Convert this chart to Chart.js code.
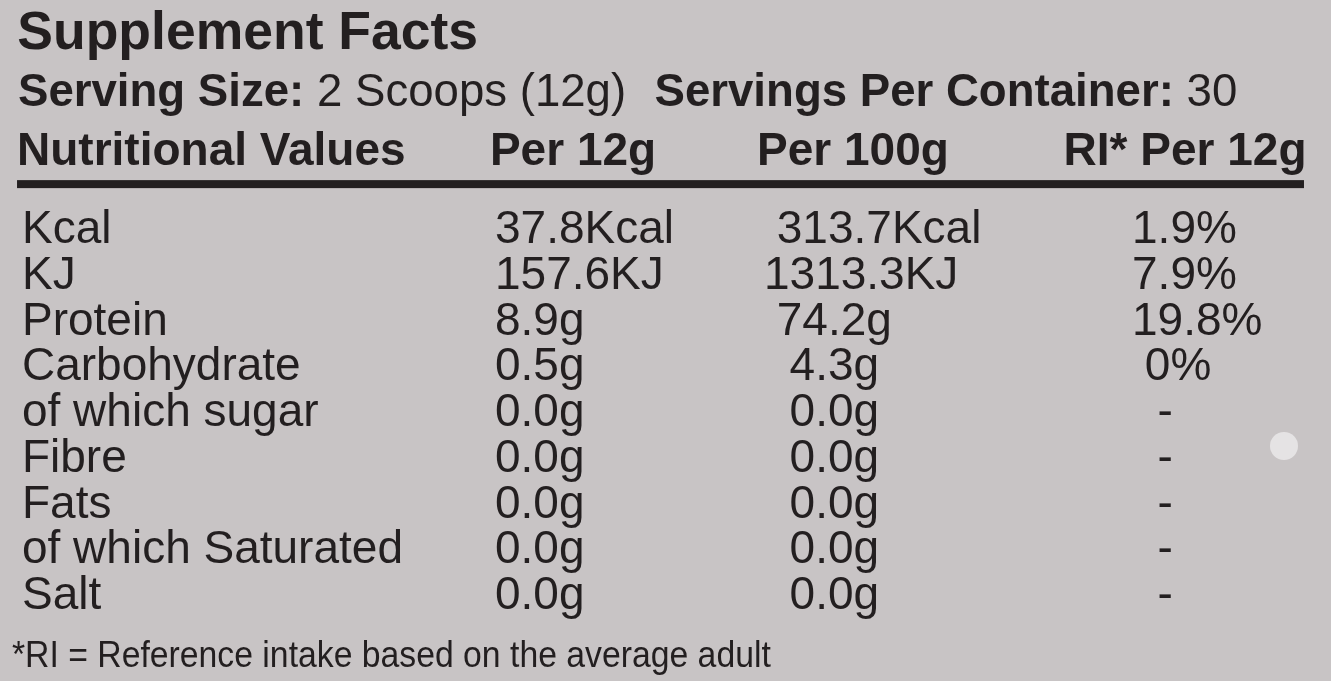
<!DOCTYPE html>
<html>
<head>
<meta charset="utf-8">
<title>Supplement Facts</title>
<script src="https://cdn.jsdelivr.net/npm/chart.js@4.4.1/dist/chart.umd.min.js"></script>
<style>
  html, body { margin: 0; padding: 0; background: #c8c4c5; }
  #wrap { position: relative; width: 1331px; height: 681px; }
  #speck { position: absolute; left: 1270px; top: 432px; width: 28px; height: 28px; border-radius: 50%; background: #e5e3e4; }
</style>
</head>
<body>
<div id="wrap">
  <canvas id="facts"></canvas>
  <div id="speck"></div>
</div>
<script>
const title = "Supplement Facts";
const servingLabel = "Serving Size:";
const servingSize = "2 Scoops (12g)";
const containerLabel = "Servings Per Container:";
const servingsPerContainer = "30";
const columnHeaders = ["Nutritional Values", "Per 12g", "Per 100g", "RI* Per 12g"];
const nutrients = ["Kcal", "KJ", "Protein", "Carbohydrate", "of which sugar", "Fibre", "Fats", "of which Saturated", "Salt"];
const per12g = ["37.8Kcal", "157.6KJ", "8.9g", "0.5g", "0.0g", "0.0g", "0.0g", "0.0g", "0.0g"];
const per100g = [" 313.7Kcal", "1313.3KJ", " 74.2g", "  4.3g", "  0.0g", "  0.0g", "  0.0g", "  0.0g", "  0.0g"];
const riPer12g = ["1.9%", "7.9%", "19.8%", " 0%", "  -", "  -", "  -", "  -", "  -"];
const footnote = "*RI = Reference intake based on the average adult";

// layout (percent of the x scale), kept apart from the values
const cellAnchor = [1.65, 37.19, 57.4, 85.05];
const headerAnchor = [1.28, 36.81, 56.88, 79.91];
const ruleSpan = [1.28, 97.97];
const ink = "#231f20";
const face = '"Liberation Sans", Arial, Helvetica, sans-serif';

const columns = [nutrients, per12g, per100g, riPer12g];

const tableText = {
  id: "tableText",
  afterDatasetsDraw(chart) {
    const { ctx, scales: { x, y } } = chart;
    ctx.save();
    ctx.fillStyle = ink;
    ctx.textBaseline = "alphabetic";
    ctx.textAlign = "left";

    // title
    ctx.font = `bold 53.5px ${face}`;
    ctx.fillText(title, x.getPixelForValue(1.3), y.top - 155);

    // serving line, bold and regular pieces side by side
    let px = x.getPixelForValue(1.35);
    const servingBase = y.top - 98;
    [[servingLabel + " ", "bold"], [servingSize + "  ", "normal"], [containerLabel + " ", "bold"], [servingsPerContainer, "normal"]]
      .forEach(([text, weight], i) => {
        ctx.font = `${weight} 45.6px ${face}`;
        ctx.fillText(text, px, servingBase);
        px += ctx.measureText(text).width + (i === 1 ? 3 : 0);
      });

    // column headers
    ctx.font = `bold 46px ${face}`;
    columnHeaders.forEach((h, i) => {
      ctx.fillText(h, x.getPixelForValue(headerAnchor[i]), y.top - 39);
    });

    // thick rule under the headers
    const x0 = x.getPixelForValue(ruleSpan[0]);
    const x1 = x.getPixelForValue(ruleSpan[1]);
    ctx.fillRect(x0, y.top - 24, x1 - x0, 8);

    // table cells at the dataset points
    ctx.font = `46px ${face}`;
    chart.data.datasets.forEach((ds, i) => {
      chart.getDatasetMeta(i).data.forEach((pt, j) => {
        ctx.fillText(ds.cells[j], pt.x, pt.y + 16);
      });
    });

    // footnote
    ctx.font = `37px ${face}`;
    ctx.translate(x.getPixelForValue(0.9), y.bottom + 51);
    ctx.scale(0.912, 1);
    ctx.fillText(footnote, 0, 0);
    ctx.restore();
  }
};

new Chart(document.getElementById("facts"), {
  type: "scatter",
  data: {
    datasets: columns.map((cells, i) => ({
      label: columnHeaders[i],
      cells,
      data: nutrients.map(n => ({ x: cellAnchor[i], y: n })),
      pointRadius: 0,
      pointHoverRadius: 0
    }))
  },
  options: {
    responsive: true,
    maintainAspectRatio: false,
    animation: false,
    events: [],
    layout: { padding: { top: 204.125, bottom: 65.125, left: 0, right: 0 } },
    scales: {
      x: { type: "linear", min: 0, max: 100, display: false },
      y: { type: "category", labels: nutrients, offset: true, display: false }
    },
    plugins: {
      legend: { display: false },
      title: { display: false },
      tooltip: { enabled: false }
    }
  },
  plugins: [tableText]
});
</script>
</body>
</html>
